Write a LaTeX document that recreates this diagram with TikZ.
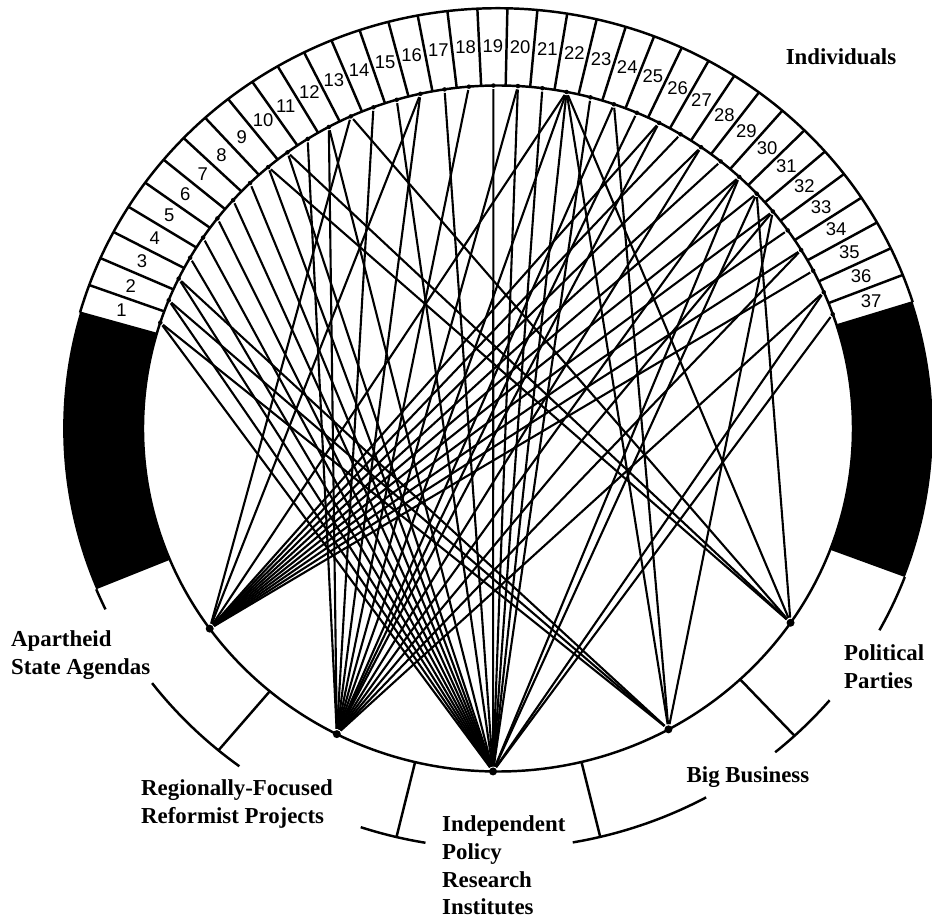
\documentclass[tikz,border=0pt]{standalone}
\usepackage{fontspec}
\setmainfont{Liberation Serif}
\newfontfamily\cellfont{Liberation Sans}

\tikzset{
  grp/.style={circle, fill, inner sep=0pt, minimum size=1.6mm},
  ind/.style={circle, fill, inner sep=0pt, minimum size=0.9mm},
  link/.style={line width=1.2pt},
  lab/.style={font=\fontsize{13}{15.8}\selectfont\bfseries, align=left, inner sep=0pt}
}

\begin{document}
\begin{tikzpicture}[x=7.1cm, y=6.86cm, line width=1.4pt]
  \useasboundingbox (-9.96cm,-9.87cm) rectangle (8.68cm,8.57cm);

  % ring of individuals
  \draw (0,0) circle[radius=1];
  \draw (164:1.225) arc[start angle=164, end angle=17.48, radius=1.225];
  \foreach \k in {0,...,37}
    \draw ({164-3.96*\k}:1) -- ({164-3.96*\k}:1.225);
  \foreach \n in {1,...,37}
    \node[font=\cellfont\fontsize{10.5}{11}\selectfont] (c\n) at ({165.98-3.96*\n}:1.115) {\n};

  % black bars
  \fill (164:1) -- (164:1.225) arc[start angle=164, end angle=202.5, radius=1.225]
    -- (202.5:1) arc[start angle=202.5, end angle=164, radius=1] -- cycle;
  \fill (17.48:1) -- (17.48:1.225) arc[start angle=17.48, end angle=-20.7, radius=1.225]
    -- (-20.7:1) arc[start angle=-20.7, end angle=17.48, radius=1] -- cycle;

  % brackets below
  \draw (202.5:1.225) arc[start angle=202.5, end angle=205.5, radius=1.225];
  \draw (217.3:1.225) arc[start angle=217.3, end angle=233.5, radius=1.225];
  \draw (230:1) -- (230:1.225);
  \draw (251.6:1.225) arc[start angle=251.6, end angle=260.4, radius=1.225];
  \draw (256.5:1) -- (256.5:1.225);
  \draw (279.9:1.225) arc[start angle=279.9, end angle=298.6, radius=1.225];
  \draw (283.6:1) -- (283.6:1.225);
  \draw (309.6:1.225) arc[start angle=309.6, end angle=319.7, radius=1.225];
  \draw (313:1) -- (313:1.225);
  \draw (331.3:1.225) arc[start angle=331.3, end angle=339.3, radius=1.225];

  % points
  \foreach \n in {1,...,37}
    \node[ind] (p\n) at ({165.98-3.96*\n}:1) {};
  \node[grp] (apartheid) at (215.7:1) {};
  \node[grp] (regional) at (243:1) {};
  \node[grp] (institutes) at (269.2:1) {};
  \node[grp] (business) at (298.7:1) {};
  \node[grp] (parties) at (325.5:1) {};

  % links
  \foreach \n in {13,16,22,26,27,28,29,30,31,32,33,34,35}
    \draw[link] (apartheid) -- (p\n);
  \foreach \n in {11,12,14,16,18,20,22,24,25,26,28,30,32,34,36}
    \draw[link] (regional) -- (p\n);
  \foreach \n in {1,2,3,4,5,6,7,8,9,10,12,15,17,19,20,21,22,23,30,31,36,37}
    \draw[link] (institutes) -- (p\n);
  \foreach \n in {1,2,3,22,24,32}
    \draw[link] (business) -- (p\n);
  \foreach \n in {9,10,13,22,31}
    \draw[link] (parties) -- (p\n);

  % labels
  \node[lab, anchor=center] (individuals) at (6.86cm,7.43cm) {Individuals};
  \node[lab, anchor=west] (apartheidlab) at (-9.76cm,-4.53cm) {Apartheid\\State Agendas};
  \node[lab, anchor=west] (regionallab) at (-7.16cm,-7.51cm) {Regionally-Focused\\Reformist Projects};
  \node[lab, anchor=west] (instituteslab) at (-1.14cm,-8.74cm) {Independent\\Policy\\Research\\Institutes};
  \node[lab, anchor=center] (businesslab) at (5.0cm,-6.97cm) {Big Business};
  \node[lab, anchor=west] (partieslab) at (6.9cm,-4.76cm) {Political\\Parties};
\end{tikzpicture}
\end{document}
